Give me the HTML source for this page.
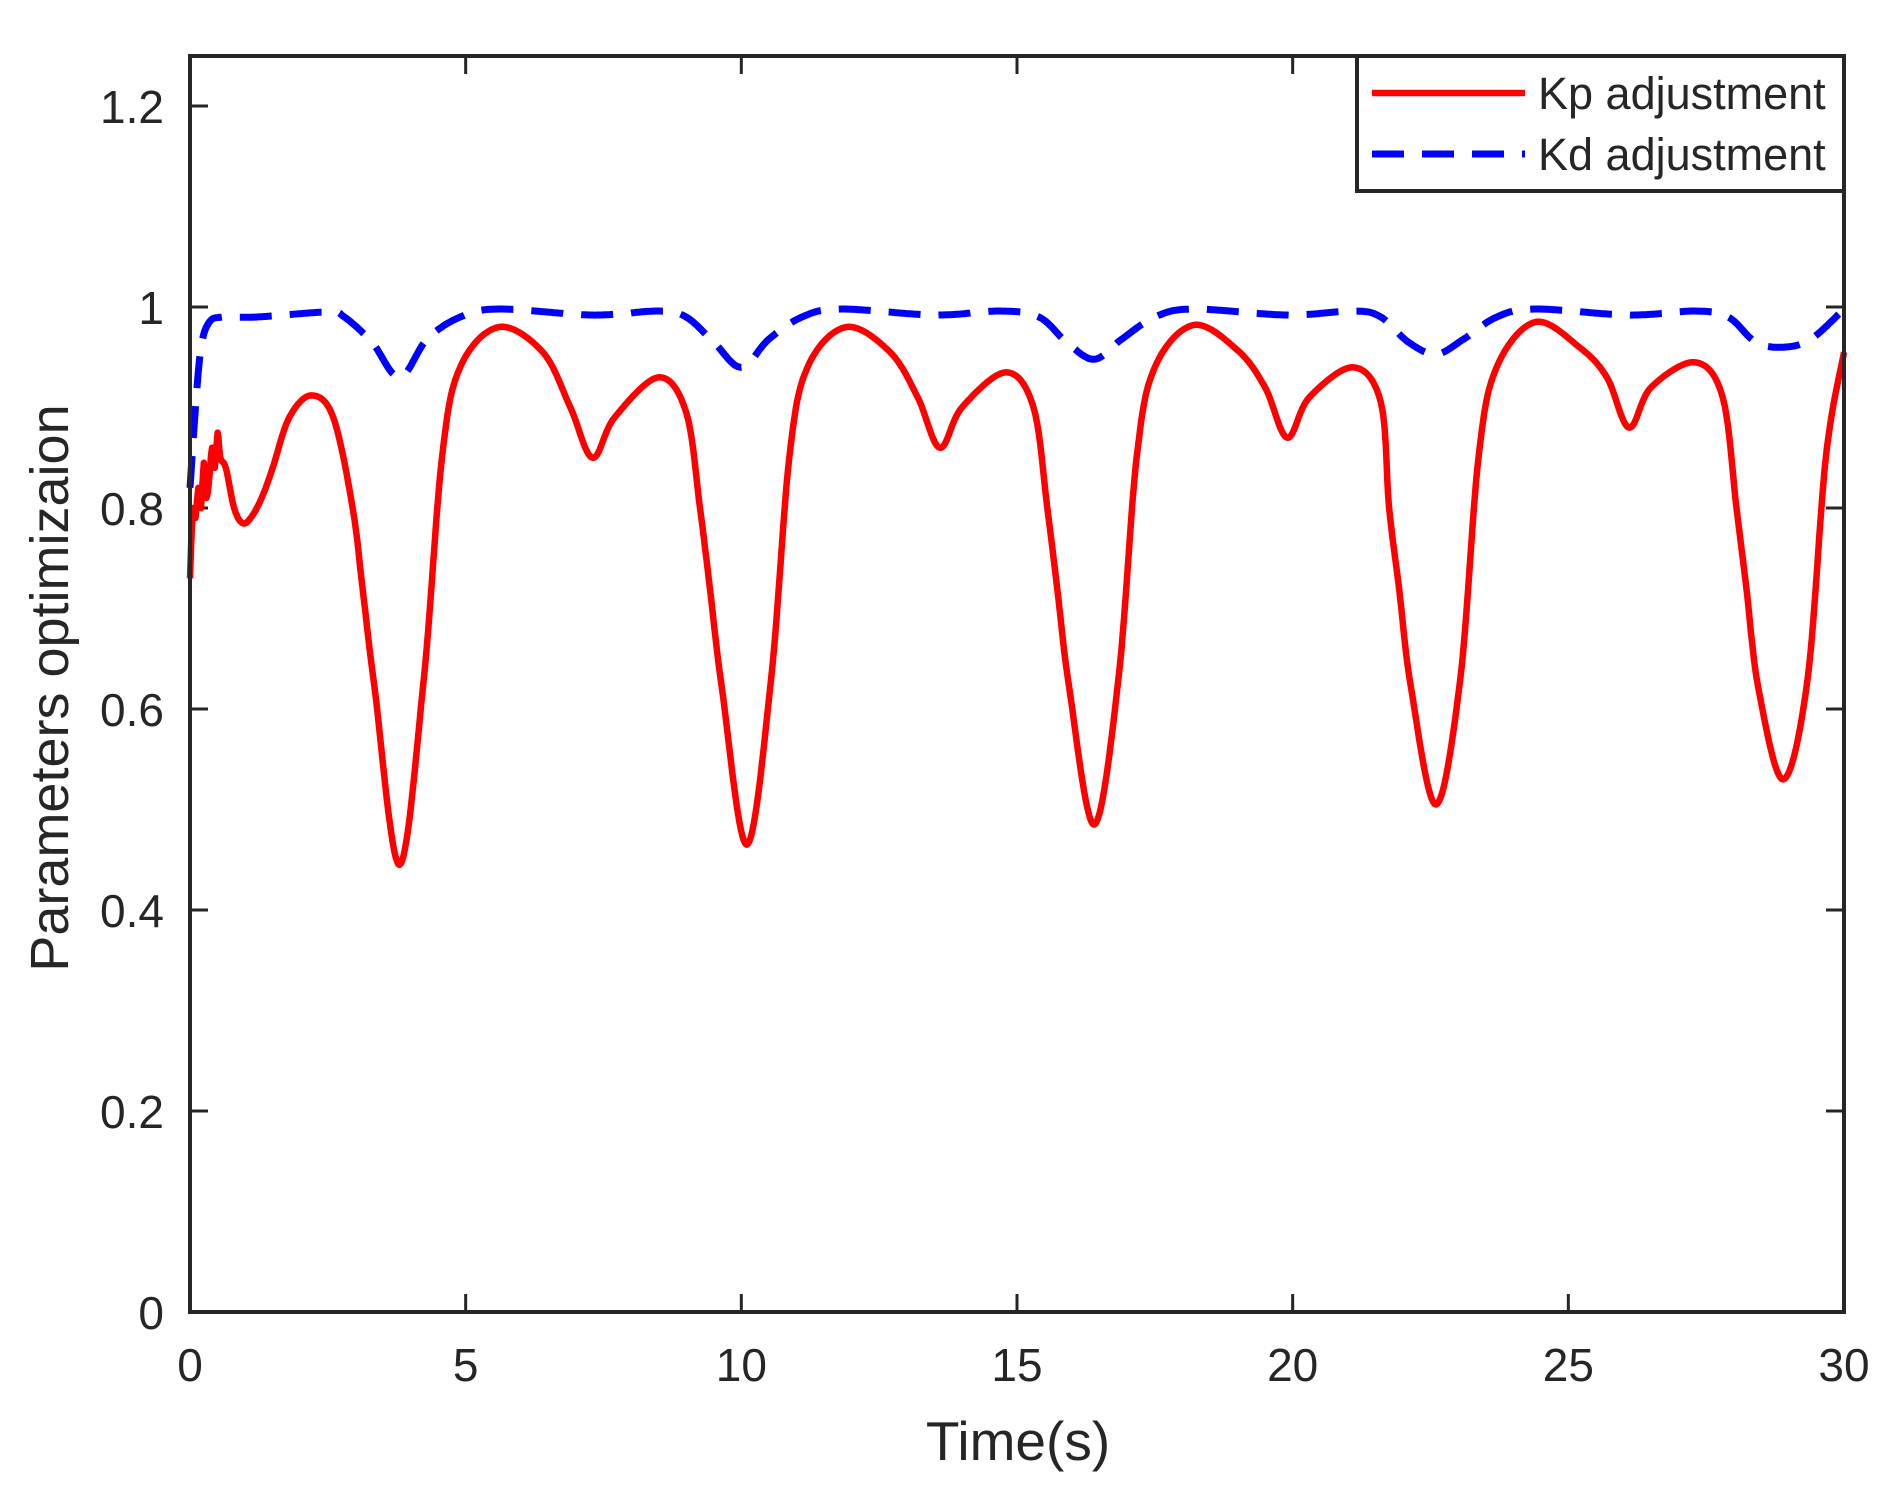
<!DOCTYPE html>
<html><head><meta charset="utf-8"><style>
html,body{margin:0;padding:0;background:#fff}
svg{display:block}
text{font-family:"Liberation Sans",Arial,sans-serif;fill:#262626}
</style></head><body>
<svg id="s" width="1900" height="1488" viewBox="0 0 1900 1488" xmlns="http://www.w3.org/2000/svg">
<rect width="1900" height="1488" fill="#fff"/>
<g id="ticks" stroke="#262626" stroke-width="3"></g>
<g id="labels" font-size="46"></g>
<path id="kd" fill="none" stroke="#0000ff" stroke-width="7" stroke-dasharray="32 18"/>
<path id="kp" fill="none" stroke="#ff0000" stroke-width="6.5" stroke-linejoin="round"/>
<rect x="190" y="56" width="1654" height="1256" fill="none" stroke="#262626" stroke-width="4"/>
<text x="1018" y="1460" font-size="55" text-anchor="middle">Time(s)</text>
<text transform="translate(68,688) rotate(-90)" font-size="54" text-anchor="middle">Parameters optimizaion</text>
<rect x="1357" y="56" width="487" height="135" fill="#fff" stroke="#262626" stroke-width="4"/>
<line x1="1372" y1="93" x2="1525" y2="93" stroke="#ff0000" stroke-width="6.5"/>
<line x1="1372" y1="154" x2="1525" y2="154" stroke="#0000ff" stroke-width="7" stroke-dasharray="32 18"/>
<text x="1538" y="109" font-size="45" fill="#000">Kp adjustment</text>
<text x="1538" y="170" font-size="45" fill="#000">Kd adjustment</text>
</svg>
<script>
var X=function(t){return 190+t*55.133},Y=function(v){return 1312-v*1005};
var tk=document.getElementById('ticks'),lb=document.getElementById('labels'),ns='http://www.w3.org/2000/svg';
function el(p,n,a,txt){var e=document.createElementNS(ns,n);for(var k in a)e.setAttribute(k,a[k]);if(txt!=null)e.textContent=txt;p.appendChild(e);}
for(var t=0;t<=30;t+=5){var x=X(t);el(tk,'line',{x1:x,y1:1312,x2:x,y2:1294});el(tk,'line',{x1:x,y1:56,x2:x,y2:74});el(lb,'text',{x:x,y:1381,'text-anchor':'middle'},''+t);}
var yl=['0','0.2','0.4','0.6','0.8','1','1.2'];
for(var i=0;i<7;i++){var y=Y(i*0.2);el(tk,'line',{x1:190,y1:y,x2:208,y2:y});el(tk,'line',{x1:1844,y1:y,x2:1826,y2:y});el(lb,'text',{x:164,y:y+17,'text-anchor':'end'},yl[i]);}
function cr(pts){
var out='M'+X(pts[0][0]).toFixed(1)+' '+Y(pts[0][1]).toFixed(1);
var n=pts.length;
for(var i=0;i<n-1;i++){var p0=pts[Math.max(0,i-1)],p1=pts[i],p2=pts[i+1],p3=pts[Math.min(n-1,i+2)];
var N=Math.max(2,Math.ceil((p2[0]-p1[0])*40));
for(var k=1;k<=N;k++){var u=k/N,u2=u*u,u3=u2*u;
function f(a,b,c,d){return 0.5*((2*b)+(-a+c)*u+(2*a-5*b+4*c-d)*u2+(-a+3*b-3*c+d)*u3);}
var tx=f(p0[0],p1[0],p2[0],p3[0]),v=f(p0[1],p1[1],p2[1],p3[1]);
out+='L'+X(tx).toFixed(1)+' '+Y(v).toFixed(1);}}
return out;}
var kp=[[0,0.73],[0.05,0.80],[0.1,0.79],[0.15,0.82],[0.2,0.80],[0.25,0.845],[0.3,0.81],[0.35,0.83],[0.4,0.86],[0.45,0.84],[0.5,0.875],[0.55,0.85],[0.65,0.84],[0.8,0.80],[0.95,0.785],[1.1,0.79],[1.3,0.81],[1.5,0.84],[1.8,0.89],[2.2,0.912],[2.6,0.89]];
var dips=[[3.8,0.445,0.98,0.85,0.93],[10.1,0.465,0.98,0.86,0.935],[16.4,0.485,0.982,0.87,0.94],[22.6,0.505,0.985,0.88,0.945],[28.9,0.53]];
dips.forEach(function(d,i){var td=d[0];kp.push([td-0.85,0.80],[td-0.67,0.72],[td-0.45,0.62],[td,d[1]],[td+0.44,0.63],[td+0.77,0.85]);
if(i<4){kp.push([td+1.1,0.94],[td+1.8,d[2]],[td+2.6,d[2]-0.025],[td+3.1,d[3]+0.05],[td+3.5,d[3]],[td+3.9,d[3]+0.04],[td+4.7,d[4]],[td+5.2,d[4]-0.035]);}else{kp.push([30,0.955]);}});
kp.sort((a,b)=>a[0]-b[0]);
document.getElementById('kp').setAttribute('d',cr(kp));
var kd=[[0,0.82],[0.1,0.9],[0.2,0.96],[0.35,0.985],[0.6,0.99],[1.2,0.99],[2.5,0.995]];
var kdd=[[3.8,0.93],[10.0,0.94],[16.4,0.948],[22.6,0.953],[28.9,0.96]];
kdd.forEach(function(d,i){var td=d[0];kd.push([td-1.0,0.99],[td-0.5,0.965],[td,d[1]],[td+0.5,0.968]);
if(i<4){kd.push([td+1.1,0.99],[td+1.8,0.998],[td+3.5,0.992],[td+4.7,0.996]);}else{kd.push([30,0.998]);}});
kd.sort((a,b)=>a[0]-b[0]);
document.getElementById('kd').setAttribute('d',cr(kd));
</script>
</body></html>
